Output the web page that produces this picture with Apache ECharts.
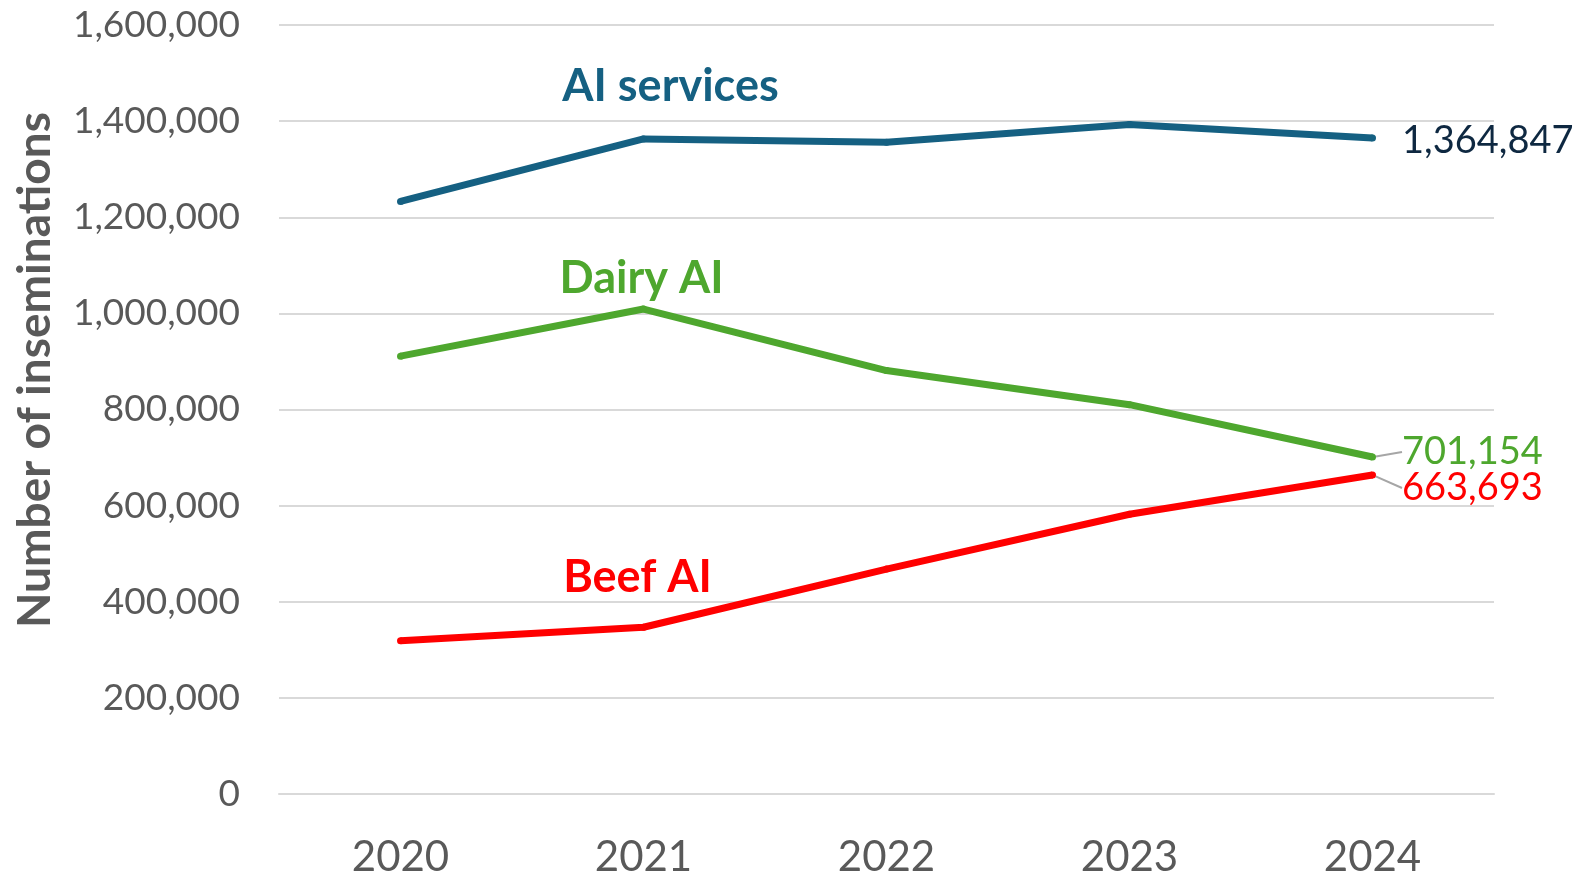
<!DOCTYPE html>
<html>
<head>
<meta charset="utf-8">
<script src="https://cdn.jsdelivr.net/npm/echarts@6/dist/echarts.min.js"></script>
<style>
  html, body { margin: 0; padding: 0; background: #fff; }
  #chart { width: 1579px; height: 875px; }
</style>
</head>
<body>
<div id="chart"></div>
<script>
const years = ["2020", "2021", "2022", "2023", "2024"];
const aiServices = [1233000, 1363000, 1356000, 1393000, 1364847];
const dairyAI = [911000, 1009000, 881000, 810000, 701154];
const beefAI = [319000, 347000, 468000, 582000, 663693];
const seriesNames = ["AI services", "Dairy AI", "Beef AI"];

const fmt = (v) => v.toLocaleString("en-US");
const FONT = "Lato";

// name label above the 2021 point, value label at the last point
function buildData(values, name, color, endColor, leader) {
  return values.map((v, i) => {
    if (i === 1) {
      return {
        value: v,
        label: {
          show: true,
          position: "top",
          formatter: name,
          color: color,
          fontFamily: FONT,
          fontWeight: "bold",
          fontSize: 45,
        },
      };
    }
    if (i === values.length - 1) {
      return {
        value: v,
        label: {
          show: true,
          position: "right",
          distance: 26,
          formatter: fmt(v),
          color: endColor,
          fontFamily: FONT,
          fontSize: 38,
        },
        labelLine: {
          show: leader,
          smooth: false,
          lineStyle: { color: "#a6a6a6", width: 2 },
        },
      };
    }
    return v;
  });
}

// nudge the name label (index 1) and the end label (index 4)
function shifts(nameDx, nameDy, endDy) {
  return (params) => {
    if (params.dataIndex === 1) return { dx: nameDx, dy: nameDy };
    if (params.dataIndex === 4) return { dy: endDy };
    return {};
  };
}

const chart = echarts.init(document.getElementById("chart"));

chart.setOption({
  animation: false,
  grid: { left: 279, right: 85, top: 25, bottom: 81, outerBoundsMode: "none" },
  xAxis: {
    type: "category",
    data: years,
    axisLine: { show: true, lineStyle: { color: "#d9d9d9", width: 2 } },
    axisTick: { show: false },
    axisLabel: {
      color: "#595959",
      fontFamily: FONT,
      fontSize: 42,
      margin: 42,
    },
  },
  yAxis: {
    type: "value",
    min: 0,
    max: 1600000,
    interval: 200000,
    axisLine: { show: false },
    axisTick: { show: false },
    splitLine: { lineStyle: { color: "#d9d9d9", width: 2 } },
    axisLabel: {
      color: "#595959",
      fontFamily: FONT,
      fontSize: 37,
      margin: 39,
      formatter: (v) => fmt(v),
    },
  },
  graphic: [
    {
      type: "text",
      x: 35,
      y: 370,
      rotation: Math.PI / 2,
      style: {
        text: "Number of inseminations",
        fill: "#595959",
        font: "bold 46px Lato",
        align: "center",
        verticalAlign: "middle",
      },
    },
  ],
  series: [
    {
      name: seriesNames[0],
      type: "line",
      symbol: "circle",
      symbolSize: 7,
      color: "#156082",
      lineStyle: { width: 7, color: "#156082" },
      data: buildData(aiServices, seriesNames[0], "#156082", "#0e2841", false),
      labelLine: { show: false },
      labelLayout: shifts(27, -21, 3),
    },
    {
      name: seriesNames[1],
      type: "line",
      symbol: "circle",
      symbolSize: 7,
      color: "#4ea72e",
      lineStyle: { width: 7, color: "#4ea72e" },
      data: buildData(dairyAI, seriesNames[1], "#4ea72e", "#4ea72e", true),
      labelLine: { show: false },
      labelLayout: shifts(-2, 0, -5),
    },
    {
      name: seriesNames[2],
      type: "line",
      symbol: "circle",
      symbolSize: 7,
      color: "#ff0000",
      lineStyle: { width: 7, color: "#ff0000" },
      data: buildData(beefAI, seriesNames[2], "#ff0000", "#ff0000", true),
      labelLine: { show: false },
      labelLayout: shifts(-6, -19, 13),
    },
  ],
});
</script>
</body>
</html>
